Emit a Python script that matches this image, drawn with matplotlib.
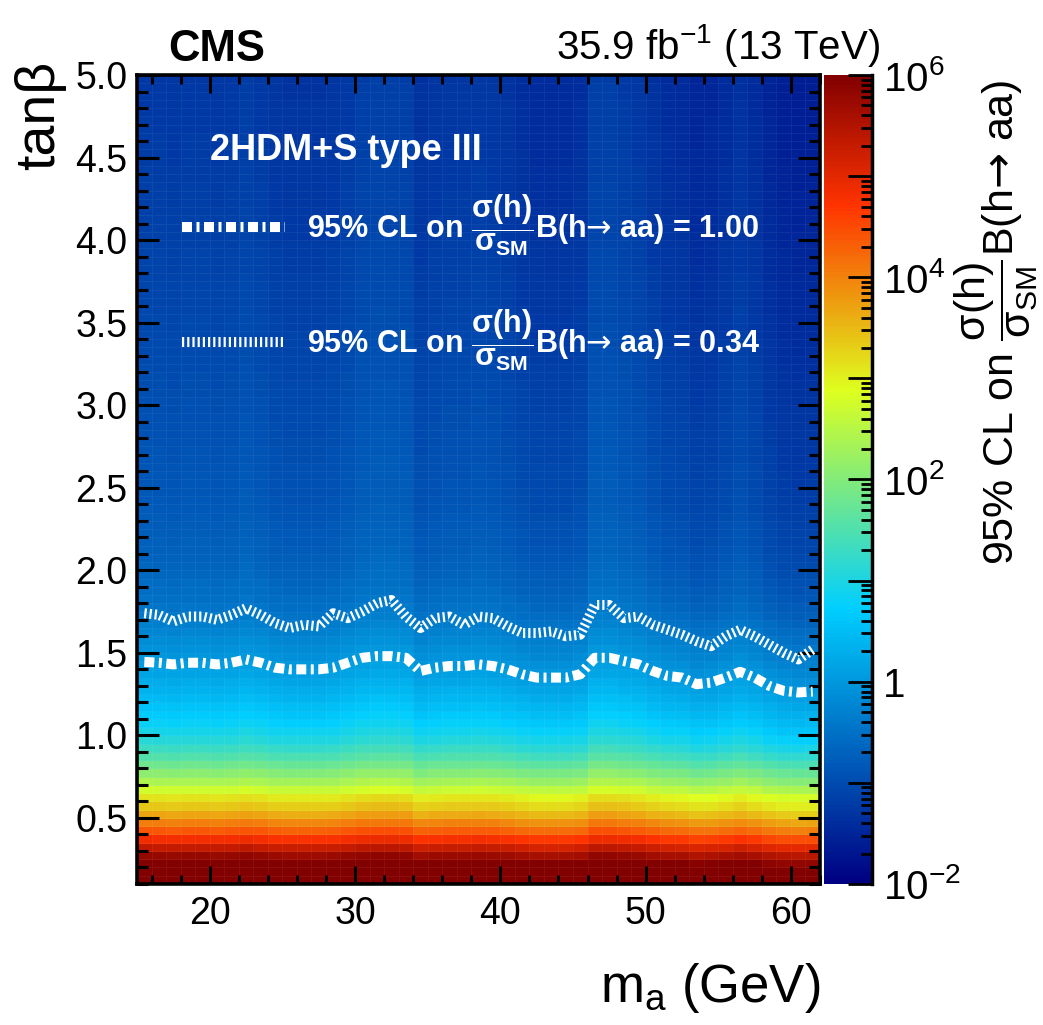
import numpy as np
import matplotlib
matplotlib.use("Agg")
import matplotlib.pyplot as plt
from matplotlib.colors import LinearSegmentedColormap, LogNorm
from matplotlib.ticker import (MultipleLocator, FormatStrFormatter, LogLocator,
                               FixedLocator, FixedFormatter, NullFormatter)
from matplotlib.lines import Line2D

fonts = ['Liberation Sans', 'DejaVu Sans']
plt.rcParams['font.family'] = fonts
plt.rcParams['mathtext.fontset'] = 'custom'
plt.rcParams['mathtext.rm'] = 'Liberation Sans'
plt.rcParams['mathtext.it'] = 'Liberation Sans:italic'
plt.rcParams['mathtext.bf'] = 'Liberation Sans:bold'
plt.rcParams['mathtext.sf'] = 'DejaVu Sans'   # only used for the arrow

# --- data ------------------------------------------------------------------
# bin edges of the 2D limit histogram
mass_edges = np.arange(15, 63, 1)                      # m_a bins (GeV)
tanb_edges = np.round(np.arange(0.1, 5.001, 0.05), 3)  # tan(beta) bins

# log10 of the limit along tan(beta) (one value per row, typical mass)
row_log = [
    6.40, 6.30, 6.10, 5.70, 5.25, 4.75, 4.30, 3.95, 3.60, 3.30,
    3.05, 2.65, 2.30, 2.00, 1.72, 1.45, 1.22, 1.02, 0.86, 0.72,
    0.60, 0.49, 0.38, 0.28, 0.18, 0.08, -0.01, -0.09, -0.16, -0.23,
    -0.31, -0.39, -0.47, -0.53, -0.58, -0.63, -0.67, -0.71, -0.74, -0.77,
    -0.80, -0.82, -0.84, -0.86, -0.88, -0.90, -0.92, -0.93, -0.94, -0.95,
    -0.96, -0.97, -0.98, -0.99, -1.00, -1.01, -1.02, -1.03, -1.04, -1.05,
    -1.06, -1.07, -1.08, -1.09, -1.10, -1.11, -1.12, -1.13, -1.14, -1.15,
    -1.16, -1.17, -1.17, -1.18, -1.19, -1.20, -1.20, -1.21, -1.22, -1.23,
    -1.23, -1.24, -1.25, -1.25, -1.26, -1.27, -1.27, -1.28, -1.28, -1.29,
    -1.29, -1.30, -1.30, -1.31, -1.31, -1.32, -1.32, -1.33,
]

# contour positions (tan(beta)) at each mass bin centre
contour_mass = np.arange(15.5, 62.0, 1.0)
contour_100 = [
    1.445, 1.44, 1.43, 1.44, 1.44, 1.43, 1.44, 1.46, 1.44, 1.41,
    1.40, 1.40, 1.40, 1.41, 1.44, 1.47, 1.48, 1.48, 1.47, 1.39,
    1.41, 1.42, 1.42, 1.43, 1.42, 1.40, 1.37, 1.35, 1.35, 1.35,
    1.37, 1.47, 1.47, 1.45, 1.43, 1.39, 1.36, 1.35, 1.31, 1.32,
    1.35, 1.385, 1.35, 1.30, 1.27, 1.26, 1.265,
]
contour_034 = [
    1.74, 1.73, 1.69, 1.72, 1.72, 1.70, 1.73, 1.77, 1.73, 1.68,
    1.65, 1.67, 1.66, 1.74, 1.71, 1.75, 1.80, 1.82, 1.72, 1.65,
    1.71, 1.72, 1.67, 1.72, 1.71, 1.66, 1.62, 1.62, 1.63, 1.60,
    1.61, 1.79, 1.79, 1.71, 1.72, 1.67, 1.64, 1.61, 1.57, 1.54,
    1.60, 1.64, 1.60, 1.55, 1.50, 1.46, 1.52,
]

cbar_decades = [1e-2, 1e-1, 1, 1e1, 1e2, 1e3, 1e4, 1e5, 1e6]
cbar_labels = [r'10$^{-2}$', '', '1', '', r'10$^{2}$', '', r'10$^{4}$', '', r'10$^{6}$']

# column-to-column variation follows the contour wiggles
c100 = np.array(contour_100)
col_shift = 2.0 * (c100 - c100.mean())
limit = 10 ** (np.array(row_log)[:, None] + col_shift[None, :])

# ROOT-style rainbow palette
stops = [0.00, 0.34, 0.61, 0.84, 1.00]
red = [0.00, 0.00, 0.87, 1.00, 0.51]
green = [0.00, 0.81, 1.00, 0.20, 0.00]
blue = [0.51, 1.00, 0.12, 0.00, 0.00]
palette = LinearSegmentedColormap.from_list(
    'root_rainbow', list(zip(stops, zip(red, green, blue))), N=255)

# --- figure ------------------------------------------------------------------
fig = plt.figure(figsize=(10.43, 10.25), dpi=100)
ax = fig.add_axes([0.1314, 0.1376, 0.6548, 0.7892])
cax = fig.add_axes([0.790, 0.1376, 0.046, 0.7892])

mesh = ax.pcolormesh(mass_edges, tanb_edges, limit, cmap=palette,
                     norm=LogNorm(1e-2, 1e6), edgecolors=(1, 1, 1, 0.06),
                     linewidth=0.5)

lw = 7.2
dashdot = (0, (1.0, 0.45, 0.3, 0.45))
hatched = (0, (0.22, 0.3))
ax.plot(contour_mass, contour_100, color='white', lw=lw, linestyle=dashdot,
        dash_capstyle='butt', zorder=3)
ax.plot(contour_mass, contour_034, color='white', lw=lw, linestyle=hatched,
        dash_capstyle='butt', zorder=3)

ax.set_xlim(15, 62)
ax.set_ylim(0.1, 5.0)
ax.xaxis.set_major_locator(MultipleLocator(10))
ax.xaxis.set_minor_locator(MultipleLocator(2))
ax.yaxis.set_major_locator(MultipleLocator(0.5))
ax.yaxis.set_minor_locator(MultipleLocator(0.1))
ax.yaxis.set_major_formatter(FormatStrFormatter('%.1f'))
ax.tick_params(which='both', direction='in', top=True, right=True,
               width=2.2, labelsize=27)
ax.tick_params(axis='x', which='major', length=13, pad=9)
ax.tick_params(axis='x', which='minor', length=6.5)
ax.tick_params(axis='y', which='major', length=16, pad=7)
ax.tick_params(axis='y', which='minor', length=8)
for sp in ax.spines.values():
    sp.set_linewidth(2.6)

ax.set_xlabel(r'm$_{\mathregular{a}}$ (GeV)', fontsize=38, loc='right')
ax.xaxis.set_label_coords(1.0, -0.095)
ax.set_ylabel('tanβ', fontsize=40, loc='top', va='center')
ax.yaxis.set_label_coords(-0.142, 1.018)

ax.text(0.045, 1.006, 'CMS', transform=ax.transAxes, fontsize=31.5,
        fontweight='bold', ha='left', va='bottom')
ax.text(1.088, 1.02, r'35.9 fb$^{\mathregular{-1}}$ (13 TeV)', transform=ax.transAxes,
        fontsize=29, ha='right', va='baseline')
ax.text(0.107, 0.907, '2HDM+S type III', transform=ax.transAxes, fontsize=26,
        fontweight='bold', color='white', ha='left', va='center')

frac = r'$\dfrac{\mathbf{\sigma(h)}}{\mathbf{\sigma_{SM}}}$'
arrow = '$\\mathsf{\u2192}$'
handles = [
    Line2D([], [], color='white', lw=lw, linestyle=dashdot, dash_capstyle='butt'),
    Line2D([], [], color='white', lw=lw, linestyle=hatched, dash_capstyle='butt'),
]
labels = [f'95% CL on {frac}B(h{arrow} aa) = 1.00',
          f'95% CL on {frac}B(h{arrow} aa) = 0.34']
leg = ax.legend(handles, labels, loc='upper left', bbox_to_anchor=(0.066, 0.855),
                frameon=False, handlelength=3.37, handletextpad=0.72,
                labelspacing=1.6, borderpad=0, borderaxespad=0,
                prop={'family': fonts, 'weight': 'bold', 'size': 22})
for t in leg.get_texts():
    t.set_color('white')

# colour scale
cb = fig.colorbar(mesh, cax=cax)
cb.outline.set_visible(False)
cax.axvline(1.0, color='black', lw=2.5, clip_on=False)
cax.yaxis.set_ticks_position('right')
cax.yaxis.set_major_locator(FixedLocator(cbar_decades))
cax.yaxis.set_major_formatter(FixedFormatter(cbar_labels))
cax.yaxis.set_minor_locator(LogLocator(base=10, subs=np.arange(2, 10), numticks=20))
cax.yaxis.set_minor_formatter(NullFormatter())
cax.tick_params(which='both', direction='in', width=2.0, labelsize=29, pad=8)
cax.tick_params(which='major', length=17)
cax.tick_params(which='minor', length=8)
cax.set_ylabel(r'95% CL on $\dfrac{\mathrm{\sigma(h)}}{\mathrm{\sigma_{SM}}}$B(h'
               + arrow + ' aa)', fontsize=31, rotation=90, loc='top', va='center')
cax.yaxis.set_label_coords(3.6, 0.995)

fig.savefig('out.png', dpi=100)
